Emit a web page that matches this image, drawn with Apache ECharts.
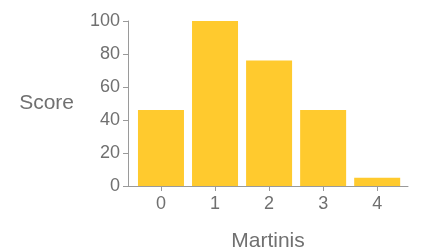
<!DOCTYPE html>
<html>
<head>
<meta charset="utf-8">
<script src="https://cdn.jsdelivr.net/npm/echarts@6/dist/echarts.min.js"></script>
<style>
  html, body { margin: 0; padding: 0; background: #fff; }
  #chart { width: 423px; height: 251px; }
</style>
</head>
<body>
<div id="chart"></div>
<script>
const categories = ["0", "1", "2", "3", "4"]; // martinis
const scores = [46, 100, 76, 46, 5];
const yTicks = [0, 20, 40, 60, 80, 100];

const textColor = "#707070";
const axisColor = "#9a9a9a";
const font = "Liberation Sans, Arial, Helvetica, sans-serif";

const chart = echarts.init(document.getElementById("chart"));

const positions = categories.map((c, i) => i);

const option = {
  animation: false,
  grid: { left: 128, right: 15, top: 21, bottom: 65, containLabel: false, outerBoundsMode: "none" },
  xAxis: {
    type: "value",
    min: -0.61,
    max: 4.57,
    name: "Martinis",
    nameLocation: "middle",
    nameGap: 45,
    nameTextStyle: { color: textColor, fontSize: 21, fontFamily: font },
    axisLine: { show: true, onZero: false, lineStyle: { color: axisColor, width: 1 } },
    axisTick: { show: true, length: 5, customValues: positions, lineStyle: { color: axisColor } },
    axisLabel: {
      customValues: positions,
      margin: 9,
      color: textColor,
      fontSize: 18,
      fontFamily: font,
      formatter: (v) => categories[Math.round(v)],
    },
    splitLine: { show: false },
  },
  yAxis: {
    type: "value",
    min: 0,
    max: 100,
    interval: 20,
    name: "Score",
    nameLocation: "middle",
    nameRotate: 0,
    nameGap: 54,
    nameTextStyle: { color: textColor, fontSize: 21, fontFamily: font },
    axisLine: { show: true, onZero: false, lineStyle: { color: axisColor, width: 1 } },
    axisTick: { show: true, length: 5, lineStyle: { color: axisColor } },
    axisLabel: {
      margin: 8,
      color: textColor,
      fontSize: 18,
      fontFamily: font,
      formatter: (v) => (yTicks.includes(v) ? String(v) : ""),
    },
    splitLine: { show: false },
  },
  series: [
    {
      type: "bar",
      barWidth: 46,
      data: positions.map((p, i) => [p, scores[i]]),
      itemStyle: { color: "#ffca2e" },
    },
  ],
};

chart.setOption(option);
</script>
</body>
</html>
